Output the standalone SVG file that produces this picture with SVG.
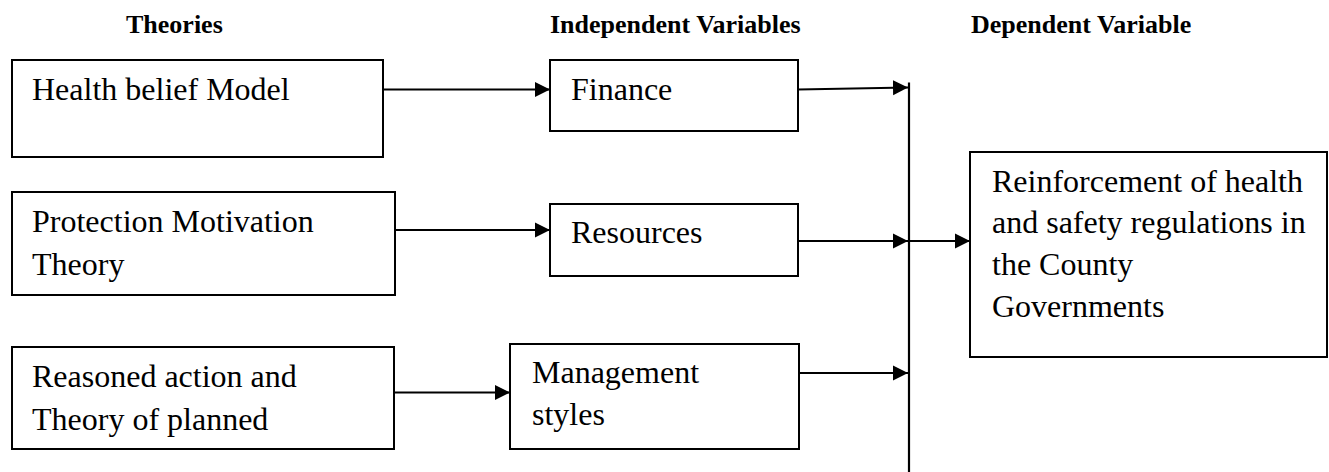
<svg xmlns="http://www.w3.org/2000/svg" width="1329" height="472" viewBox="0 0 1329 472">
<style>
.box{fill:#fff;stroke:#000;stroke-width:2}
.t{font-family:"Liberation Serif","Times New Roman",serif;font-size:32px;fill:#000}
.h{font-family:"Liberation Serif","Times New Roman",serif;font-size:26px;font-weight:bold;fill:#000}
.c{fill:none;stroke:#000;stroke-width:2.2}
</style>
<defs>
<marker id="arr" markerUnits="userSpaceOnUse" markerWidth="16" markerHeight="16" refX="15" refY="8" orient="auto">
<path d="M0,0.5 L15,8 L0,15.5 z" fill="#000"/>
</marker>
</defs>
<rect width="1329" height="472" fill="#fff"/>
<g id="headers">
<text class="h" x="126" y="33">Theories</text>
<text class="h" x="550" y="33">Independent Variables</text>
<text class="h" x="971" y="33">Dependent Variable</text>
</g>
<g id="node-hbm">
<rect class="box" x="12" y="60" width="371" height="97"/>
<text class="t" x="32" y="100">Health belief Model</text>
</g>
<g id="node-pmt">
<rect class="box" x="12" y="192" width="383" height="103"/>
<text class="t" x="32" y="232">Protection Motivation</text>
<text class="t" x="32" y="275">Theory</text>
</g>
<g id="node-ra">
<rect class="box" x="12" y="347" width="382" height="102"/>
<text class="t" x="32" y="387">Reasoned action and</text>
<text class="t" x="32" y="430">Theory of planned</text>
</g>
<g id="node-finance">
<rect class="box" x="550" y="60" width="248" height="71"/>
<text class="t" x="571" y="100">Finance</text>
</g>
<g id="node-resources">
<rect class="box" x="550" y="204" width="248" height="72"/>
<text class="t" x="571" y="243">Resources</text>
</g>
<g id="node-management">
<rect class="box" x="510" y="344" width="289" height="105"/>
<text class="t" x="532" y="383">Management</text>
<text class="t" x="532" y="425">styles</text>
</g>
<g id="node-dv">
<rect class="box" x="970" y="152" width="357" height="205"/>
<text class="t" x="992" y="192">Reinforcement of health</text>
<text class="t" x="992" y="233">and safety regulations in</text>
<text class="t" x="992" y="275">the County</text>
<text class="t" x="992" y="317">Governments</text>
</g>
<g id="connectors">
<line class="c" x1="383" y1="89.5" x2="550" y2="89.5" marker-end="url(#arr)"/>
<line class="c" x1="395" y1="230" x2="550" y2="230" marker-end="url(#arr)"/>
<line class="c" x1="394" y1="392.5" x2="510" y2="392.5" marker-end="url(#arr)"/>
<line class="c" x1="798" y1="89.5" x2="908" y2="87.5" marker-end="url(#arr)"/>
<line class="c" x1="798" y1="241" x2="908" y2="241" marker-end="url(#arr)"/>
<line class="c" x1="799" y1="373" x2="908" y2="373" marker-end="url(#arr)"/>
<line class="c" x1="909" y1="82.5" x2="909" y2="472"/>
<line class="c" x1="909" y1="241" x2="970" y2="241" marker-end="url(#arr)"/>
</g>
</svg>
